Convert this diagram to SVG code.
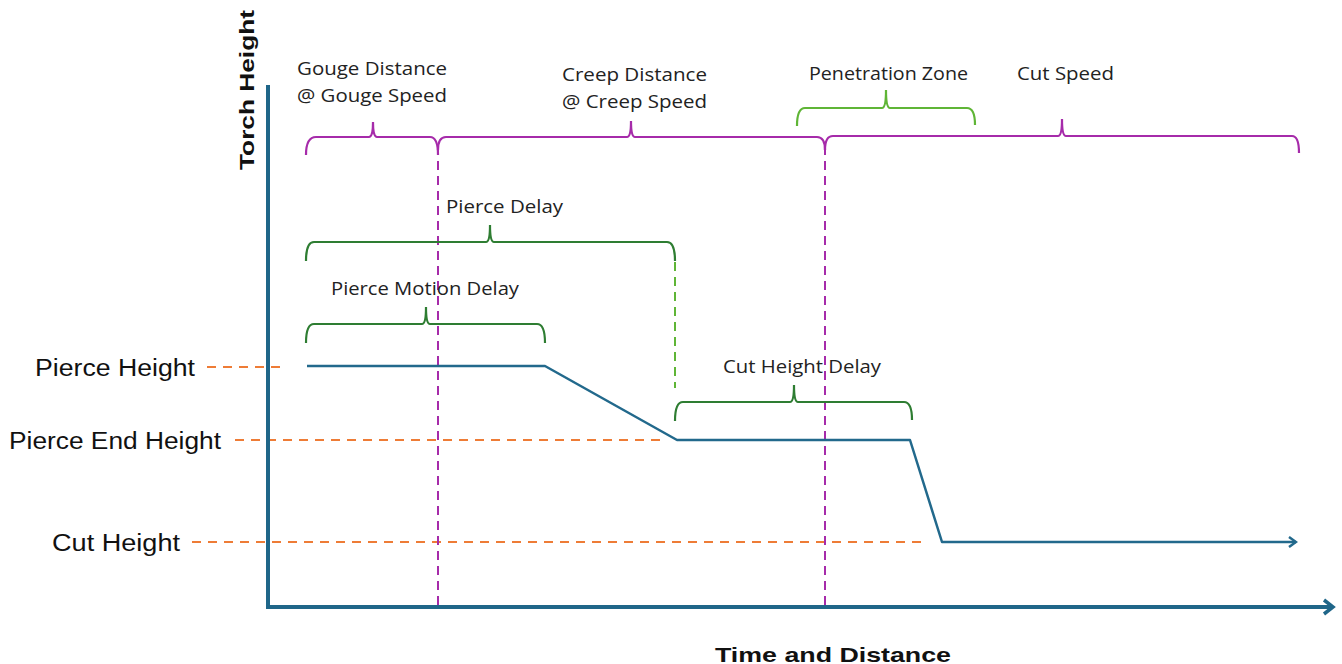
<svg xmlns="http://www.w3.org/2000/svg" width="1342" height="664" viewBox="0 0 1342 664">
<style>
.axis{fill:none;stroke:#1F6689;stroke-width:4}
.curve{fill:none;stroke:#22698C;stroke-width:2.5;stroke-linejoin:round}
.pdash{fill:none;stroke:#A62BAA;stroke-width:2;stroke-dasharray:9,6}
.gdash{fill:none;stroke:#5FB536;stroke-width:2;stroke-dasharray:9,6}
.odash{fill:none;stroke:#EE7C36;stroke-width:2;stroke-dasharray:9,7}
.pbr{fill:none;stroke:#A62BAA;stroke-width:2.2}
.lgbr{fill:none;stroke:#5FB536;stroke-width:2.2}
.dgbr{fill:none;stroke:#2E7D32;stroke-width:2.2}
.lbl{font-family:"Open Sans","Liberation Sans",sans-serif;font-size:18.5px;fill:#222}
.big{font-family:"Liberation Sans",Arial,sans-serif;font-size:23px;fill:#111}
.title{font-family:"Liberation Sans",Arial,sans-serif;font-size:21px;font-weight:bold;fill:#111}
</style>
<defs>
<marker id="arr" markerWidth="10" markerHeight="12" refX="8" refY="6" orient="auto" markerUnits="userSpaceOnUse">
<path d="M1,1 L8,6 L1,11" fill="none" stroke="#22698C" stroke-width="2.5"/>
</marker>
<marker id="arrBig" markerWidth="14" markerHeight="18" refX="11" refY="9" orient="auto" markerUnits="userSpaceOnUse">
<path d="M2,2 L11,9 L2,16" fill="none" stroke="#1F6689" stroke-width="3.5"/>
</marker>
</defs>

<g id="connectors">
<path class="odash" d="M207,367 H287"/>
<path class="odash" d="M235,440 H664"/>
<path class="odash" d="M192,542 H925"/>
<path class="pdash" d="M438,146 V607"/>
<path class="pdash" d="M825,146 V607"/>
<path class="gdash" d="M675,262 V388"/>
</g>

<g id="axes">
<path class="axis" d="M268,85 V607 H1333" marker-end="url(#arrBig)"/>
</g>

<g id="curve">
<path class="curve" d="M307,366 H545 L677,440 H910 L942,542 H1296" marker-end="url(#arr)"/>
</g>

<g id="brace-gouge">
<path class="pbr" d="M306,155 Q306,137 316,137 H369 Q373,137 373,122 Q373,137 377,137 H430 Q438,137 438,155"/>
<text class="lbl" x="297" y="75" textLength="150" lengthAdjust="spacingAndGlyphs">Gouge Distance</text>
<text class="lbl" x="297" y="102" textLength="150" lengthAdjust="spacingAndGlyphs">@ Gouge Speed</text>
</g>

<g id="brace-creep">
<path class="pbr" d="M438,150 Q438,137 446,137 H627 Q631,137 631,121 Q631,137 635,137 H817 Q825,137 825,150"/>
<text class="lbl" x="562" y="81" textLength="145" lengthAdjust="spacingAndGlyphs">Creep Distance</text>
<text class="lbl" x="562" y="108" textLength="145" lengthAdjust="spacingAndGlyphs">@ Creep Speed</text>
</g>

<g id="brace-cut-speed">
<path class="pbr" d="M825,150 Q825,136 833,136 H1058 Q1062,136 1062,119 Q1062,136 1066,136 H1292 Q1299,136 1299,153"/>
<text class="lbl" x="1017" y="80" textLength="97" lengthAdjust="spacingAndGlyphs">Cut Speed</text>
</g>

<g id="brace-penetration">
<path class="lgbr" d="M797,126 Q797,108 805,108 H882 Q886,108 886,90 Q886,108 890,108 H967 Q975,108 975,125"/>
<text class="lbl" x="809" y="80" textLength="159" lengthAdjust="spacingAndGlyphs">Penetration Zone</text>
</g>

<g id="brace-pierce-delay">
<path class="dgbr" d="M306,261 Q306,242 314,242 H486 Q490,242 490,225 Q490,242 494,242 H667 Q675,242 675,261"/>
<text class="lbl" x="446" y="213" textLength="117" lengthAdjust="spacingAndGlyphs">Pierce Delay</text>
</g>

<g id="brace-pierce-motion">
<path class="dgbr" d="M306,343 Q306,324 314,324 H422 Q426,324 426,307 Q426,324 430,324 H537 Q545,324 545,343"/>
<text class="lbl" x="331" y="295" textLength="188" lengthAdjust="spacingAndGlyphs">Pierce Motion Delay</text>
</g>

<g id="brace-cut-height-delay">
<path class="dgbr" d="M675,421 Q675,402 683,402 H790 Q794,402 794,385 Q794,402 798,402 H904 Q912,402 912,420"/>
<text class="lbl" x="723" y="373" textLength="158" lengthAdjust="spacingAndGlyphs">Cut Height Delay</text>
</g>

<g id="labels-left">
<text class="big" x="35" y="376" textLength="160" lengthAdjust="spacingAndGlyphs">Pierce Height</text>
<text class="big" x="9" y="449" textLength="212" lengthAdjust="spacingAndGlyphs">Pierce End Height</text>
<text class="big" x="52" y="551" textLength="128" lengthAdjust="spacingAndGlyphs">Cut Height</text>
</g>

<g id="titles">
<text class="title" x="0" y="0" transform="translate(254,170) rotate(-90)" textLength="160" lengthAdjust="spacingAndGlyphs">Torch Height</text>
<text class="title" x="833" y="662" text-anchor="middle" textLength="236" lengthAdjust="spacingAndGlyphs">Time and Distance</text>
</g>
</svg>
